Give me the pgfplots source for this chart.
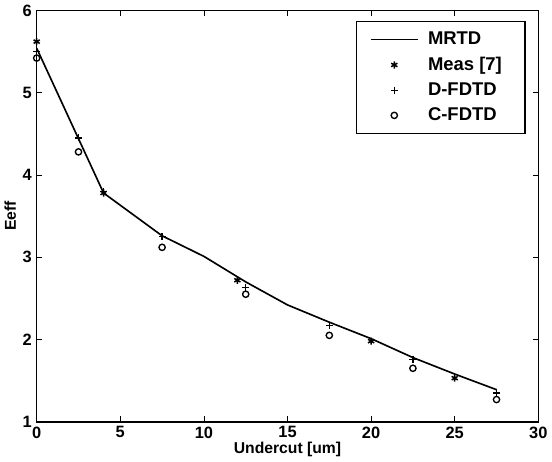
\documentclass[border=0pt]{standalone}
\usepackage{pgfplots}
\pgfplotsset{compat=1.18}
\usepackage{fontspec}
\setmainfont{Liberation Sans}
\pgfplotsset{
    markleg/.style={legend image code/.code={%
        \draw[mark repeat=2,mark phase=2,##1] plot coordinates {(0cm,0cm) (0.6cm,0cm) (1.2cm,0cm)};}},
}
\begin{document}
\begin{tikzpicture}
\begin{axis}[
    scale only axis,
    width=367pt, height=301pt,
    xmin=0, xmax=30, ymin=1, ymax=6,
    xtick={0,5,...,30}, ytick={1,2,...,6},
    tick align=inside,
    tick style={black, thin},
    major tick length=4pt,
    xtick pos=both, ytick pos=both,
    axis line style={line width=1.1pt},
    /pgf/number format/assume math mode=true,
    tick label style={font=\bfseries\fontsize{12}{13}\selectfont},
    xlabel={\bfseries Undercut [um]},
    ylabel={\bfseries Eeff},
    label style={font=\fontsize{11.5}{12}\selectfont},
    xlabel style={yshift=4pt},
    ylabel style={yshift=-2pt},
    legend style={at={(0.975,0.975)}, anchor=north east,
        font=\bfseries\fontsize{13.5}{15}\selectfont,
        draw=black, line width=1pt, inner xsep=10pt, inner ysep=6pt,
        row sep=3.5pt, nodes={inner xsep=7pt}},
    legend cell align=left,
    legend image code/.code={\draw[#1] (0cm,0cm) -- (1.2cm,0cm);},
]
\addplot[black, line width=1.2pt] coordinates {
    (0,5.54) (2.5,4.44) (4,3.78) (7.5,3.26) (10,3.01) (12.5,2.70)
    (15,2.42) (17.5,2.21) (20,2.01) (22.5,1.78) (25,1.58) (27.5,1.39)
};
\addplot[only marks, mark=asterisk, mark size=2.6pt, black, line width=1.1pt, markleg] coordinates {
    (0,5.62) (4,3.78) (12,2.72) (20,1.98) (25,1.53)
};
\addplot[only marks, mark=+, mark size=2.6pt, black, line width=0.9pt, markleg] coordinates {
    (0,5.50) (2.5,4.45) (4,3.80) (7.5,3.25) (12.5,2.63) (17.5,2.17) (22.5,1.76) (27.5,1.35)
};
\addplot[only marks, mark=o, mark size=2.3pt, black, line width=1pt, markleg] coordinates {
    (0,5.42) (2.5,4.28) (7.5,3.12) (12.5,2.55) (17.5,2.05) (22.5,1.65) (27.5,1.27)
};
\legend{MRTD, Meas [7], D-FDTD, C-FDTD}
\end{axis}
\end{tikzpicture}
\end{document}
